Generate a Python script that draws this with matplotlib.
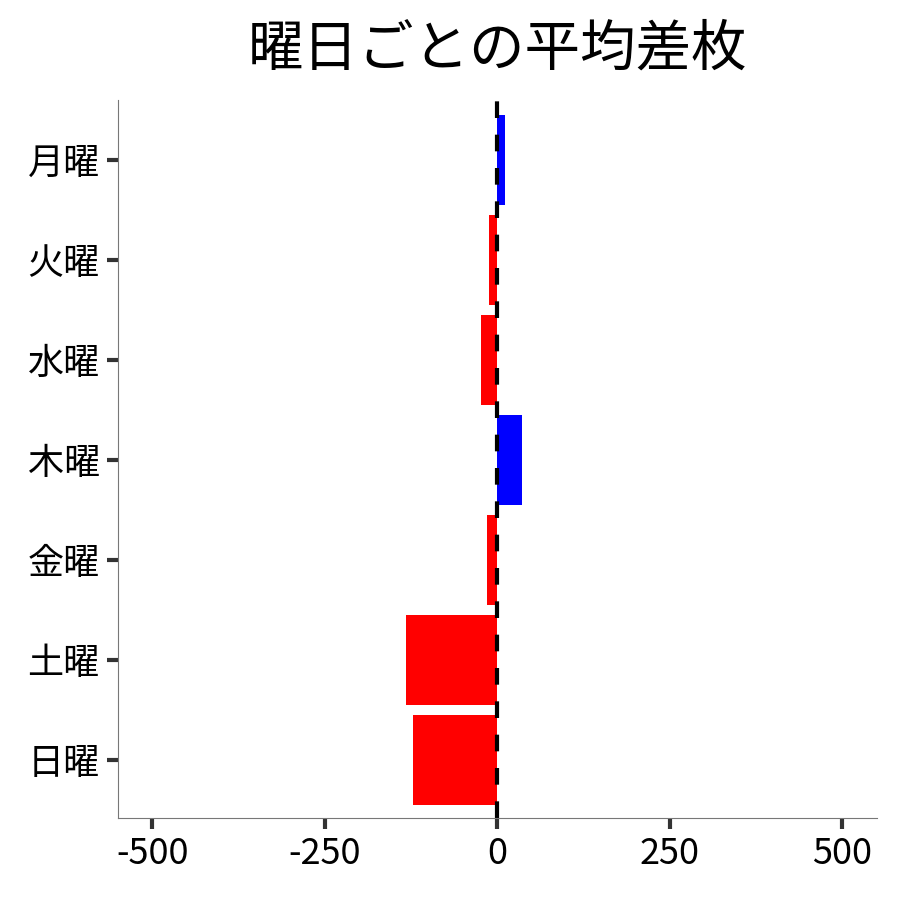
import matplotlib
matplotlib.use('Agg')
import matplotlib.pyplot as plt
import numpy as np

plt.rcParams['font.family'] = ['Noto Sans CJK JP', 'DejaVu Sans']

# weekday labels and average difference values
days = ['月曜', '火曜', '水曜', '木曜', '金曜', '土曜', '日曜']
avg_diff = [11, -12, -24, 36, -15, -132, -122]
xticks = [-500, -250, 0, 250, 500]

colors = ['blue' if v > 0 else 'red' for v in avg_diff]
y = np.arange(len(days))

fig, ax = plt.subplots(figsize=(9, 9), dpi=100)
ax.barh(y, avg_diff, height=0.9, color=colors)
ax.axvline(0, color='black', linestyle='--', linewidth=3, dashes=(4, 4))

ax.set_yticks(y)
ax.set_yticklabels(days)
ax.set_xticks(xticks)
ax.set_xticklabels([str(t) for t in xticks])
ax.set_xlim(-550, 550)
ax.set_ylim(len(days) - 0.42, -0.6)

ax.spines['top'].set_visible(False)
ax.spines['right'].set_visible(False)
ax.spines['left'].set_color('#777777')
ax.spines['bottom'].set_color('#777777')
ax.tick_params(axis='both', labelsize=26, length=8, width=3, color='#333333', pad=5)

ax.set_title('曜日ごとの平均差枚', fontsize=40, pad=25)

plt.subplots_adjust(left=0.131, right=0.974, top=0.889, bottom=0.091)
plt.savefig('out.png')
